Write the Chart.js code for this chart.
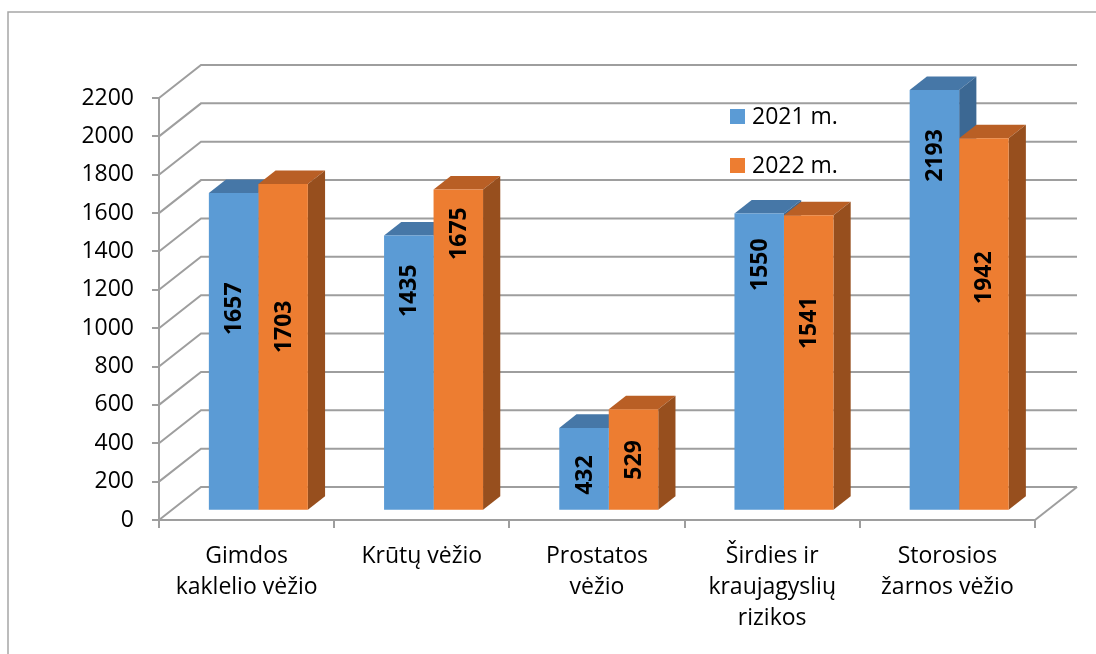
<!DOCTYPE html>
<html lang="lt">
<head>
<meta charset="utf-8">
<title>Patikros programos 2021–2022 m.</title>
<script src="https://cdn.jsdelivr.net/npm/chart.js@4.4.0/dist/chart.umd.min.js"></script>
<style>
  html, body { margin: 0; padding: 0; background: #fff; }
  #wrap { width: 1096px; height: 654px; }
</style>
</head>
<body>
<div id="wrap"><canvas id="chart" width="1096" height="654"></canvas></div>
<script>
const categories = [
  ["Gimdos", "kaklelio vėžio"],
  ["Krūtų vėžio"],
  ["Prostatos", "vėžio"],
  ["Širdies ir", "kraujagyslių", "rizikos"],
  ["Storosios", "žarnos vėžio"],
];
const seriesLabels = ["2021 m.", "2022 m."];
const values2021 = [1657, 1435, 432, 1550, 2193];
const values2022 = [1703, 1675, 529, 1541, 1942];
const yMin = 0;
const yMax = 2200;
const yStep = 200;

// where the rotated value labels were left in the original (axis units)
const labelAnchor2021 = [1053, 1147, 186, 1283, 1852];
const labelAnchor2022 = [959, 1445, 265, 980, 1215];

const FONT = "'Open Sans', 'Noto Sans', sans-serif";
const GRID = "#9e9e9e";
const DEPTH = { x: 42, y: -33 };   // floor depth of the 3D box
const BAR_FRONT = 0.28;            // bars start this far into the floor
const BAR_DEPTH = 0.41;            // and are this deep

const shades = [
  { front: "#5b9bd5", top: "#4677a7", side: "#3c6893" },
  { front: "#ed7d31", top: "#b95f25", side: "#974f1e" },
];
const anchors = [labelAnchor2021, labelAnchor2022];

function quad(ctx, pts, color) {
  ctx.fillStyle = color;
  ctx.beginPath();
  ctx.moveTo(pts[0][0], pts[0][1]);
  for (let i = 1; i < pts.length; i++) ctx.lineTo(pts[i][0], pts[i][1]);
  ctx.closePath();
  ctx.fill();
}

const box3d = {
  id: "box3d",
  beforeDraw(chart) {
    const { ctx } = chart;
    ctx.save();
    ctx.strokeStyle = "#a6a6a6";
    ctx.lineWidth = 1.5;
    ctx.strokeRect(8, 12, 1200, 700);
    ctx.restore();
  },
  beforeDatasetsDraw(chart) {
    const { ctx, chartArea: a, scales: { y } } = chart;
    ctx.save();
    ctx.strokeStyle = GRID;
    ctx.lineWidth = 2;
    y.ticks.forEach((t) => {
      const py = y.getPixelForValue(t.value);
      ctx.beginPath();
      ctx.moveTo(a.left, py);
      ctx.lineTo(a.left + DEPTH.x, py + DEPTH.y);
      ctx.lineTo(a.right + DEPTH.x, py + DEPTH.y);
      ctx.stroke();
    });
    const base = y.getPixelForValue(0);
    ctx.beginPath();
    ctx.moveTo(a.right, base);
    ctx.lineTo(a.right + DEPTH.x, base + DEPTH.y);
    ctx.stroke();
    ctx.restore();

    // push the bars into the box; undone in afterDatasetsDraw
    ctx.save();
    ctx.translate(DEPTH.x * BAR_FRONT, DEPTH.y * BAR_FRONT);
    const dx = DEPTH.x * BAR_DEPTH;
    const dy = DEPTH.y * BAR_DEPTH;
    chart.data.labels.forEach((_, i) => {
      chart.data.datasets.forEach((ds, d) => {
        const bar = chart.getDatasetMeta(d).data[i];
        const l = bar.x - bar.width / 2;
        const r = bar.x + bar.width / 2;
        quad(ctx, [[l, bar.y], [r, bar.y], [r + dx, bar.y + dy], [l + dx, bar.y + dy]], shades[d].top);
        quad(ctx, [[r, bar.y], [r + dx, bar.y + dy], [r + dx, bar.base + dy], [r, bar.base]], shades[d].side);
      });
    });
  },
  afterDatasetsDraw(chart) {
    const { ctx, scales: { y } } = chart;
    ctx.font = `bold 23px ${FONT}`;
    ctx.fillStyle = "#000";
    ctx.textAlign = "center";
    ctx.textBaseline = "middle";
    chart.data.datasets.forEach((ds, d) => {
      chart.getDatasetMeta(d).data.forEach((bar, i) => {
        ctx.save();
        ctx.translate(bar.x, y.getPixelForValue(anchors[d][i]));
        ctx.rotate(-Math.PI / 2);
        ctx.fillText(String(ds.data[i]), 0, 1);
        ctx.restore();
      });
    });
    ctx.restore();
  },
  afterDraw(chart) {
    const { ctx } = chart;
    ctx.save();
    ctx.font = `23px ${FONT}`;
    ctx.textBaseline = "middle";
    ctx.textAlign = "left";
    chart.data.datasets.forEach((ds, d) => {
      const ly = 117 + d * 49;
      ctx.fillStyle = shades[d].front;
      ctx.fillRect(730, ly - 8, 15, 15);
      ctx.fillStyle = "#000";
      ctx.fillText(ds.label, 752, ly);
    });
    ctx.restore();
  },
};

const tickFont = { family: FONT, size: 23, lineHeight: 1.35 };

new Chart(document.getElementById("chart"), {
  type: "bar",
  data: {
    labels: categories,
    datasets: [
      { label: seriesLabels[0], data: values2021, backgroundColor: shades[0].front, borderWidth: 0 },
      { label: seriesLabels[1], data: values2022, backgroundColor: shades[1].front, borderWidth: 0 },
    ],
  },
  options: {
    responsive: false,
    animation: false,
    events: [],
    datasets: { bar: { categoryPercentage: 0.565, barPercentage: 1 } },
    layout: { padding: { left: 0, right: 61, top: 98, bottom: 0 } },
    plugins: { legend: { display: false }, tooltip: { enabled: false } },
    scales: {
      x: {
        grid: { drawOnChartArea: false, offset: true, tickLength: 8, color: GRID, lineWidth: 2 },
        border: { color: GRID, width: 2 },
        ticks: { color: "#000", font: tickFont, padding: 13, maxRotation: 0, autoSkip: false },
        afterFit(scale) { scale.height = 134; },
      },
      y: {
        min: yMin,
        max: yMax,
        grid: { drawOnChartArea: false, tickLength: 7, color: GRID, lineWidth: 2 },
        border: { color: GRID, width: 2 },
        ticks: { stepSize: yStep, color: "#000", font: tickFont, padding: 18, callback: (v) => String(v) },
        afterFit(scale) { scale.width = 159; },
      },
    },
  },
  plugins: [box3d],
});
</script>
</body>
</html>
